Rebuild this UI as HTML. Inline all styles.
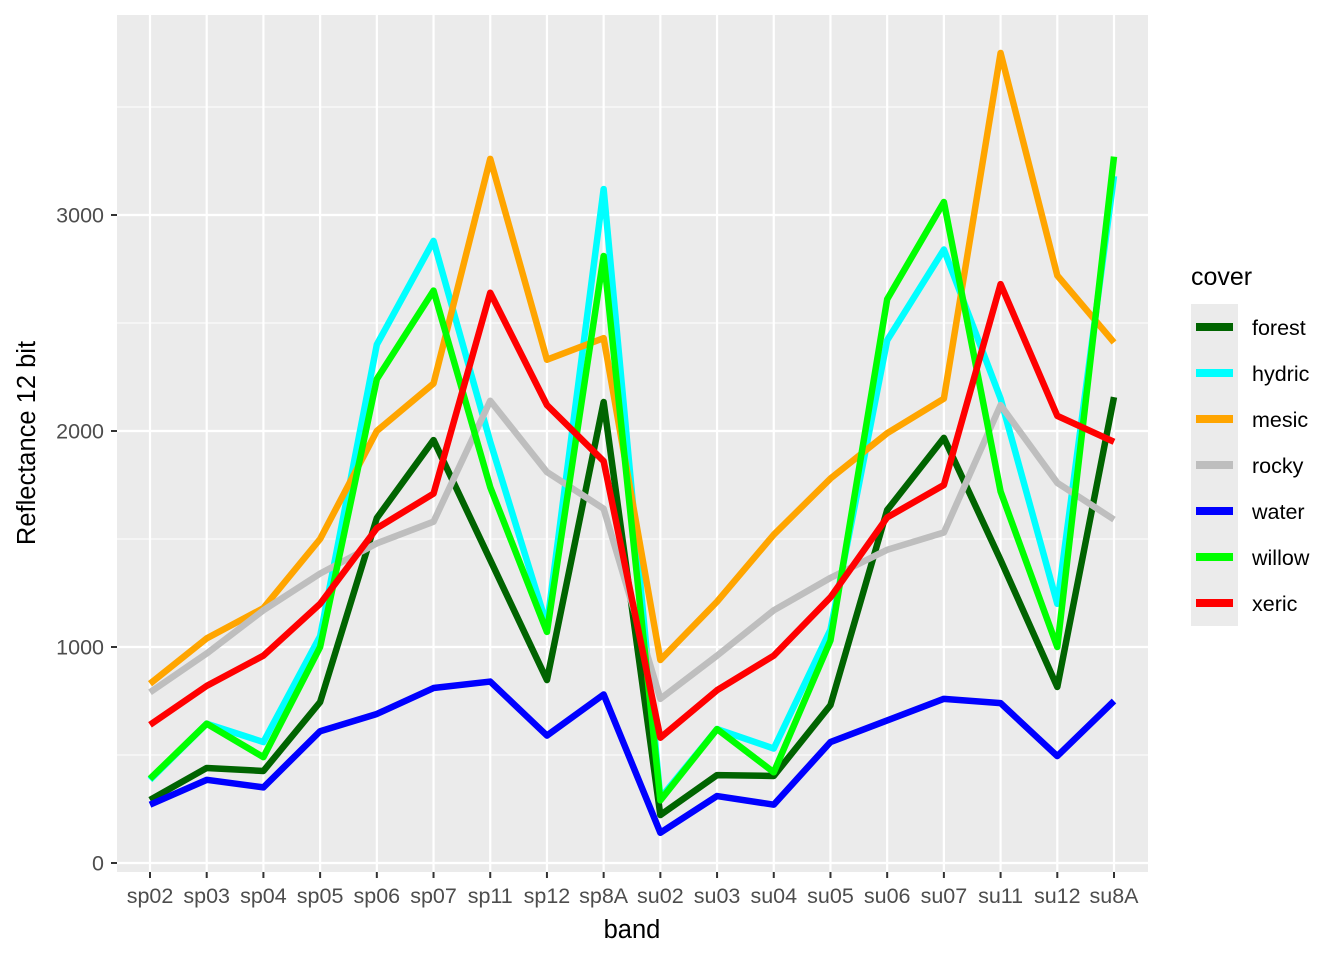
<!DOCTYPE html>
<html><head><meta charset="utf-8"><style>
body{margin:0;background:#fff;}
svg text{font-family:"Liberation Sans",Arial,sans-serif;}
</style></head><body>
<svg id="chart" width="1344" height="960" xmlns="http://www.w3.org/2000/svg">
<rect x="117" y="15" width="1031" height="857" fill="#ebebeb"/>
<g id="grid"></g>
<g id="lines"></g>
<g id="axes"></g>
<text x="632" y="938" font-size="25.5" text-anchor="middle" fill="#000">band</text>
<text transform="translate(35,443) rotate(-90)" font-size="25.5" text-anchor="middle" fill="#000">Reflectance 12 bit</text>
<text x="1191" y="285" font-size="25" fill="#000">cover</text>
<rect x="1191" y="304" width="47" height="322" fill="#ebebeb"/>
<g id="legend"></g>
</svg>
<script>
const categories=["sp02","sp03","sp04","sp05","sp06","sp07","sp11","sp12","sp8A","su02","su03","su04","su05","su06","su07","su11","su12","su8A"];
const seriesNames=["forest","hydric","mesic","rocky","water","willow","xeric"];
const seriesColors=["#006400","#00ffff","#ffa500","#bebebe","#0000ff","#00ff00","#ff0000"];
const forest=[292,440,426,745,1597,1958,1403,847,2134,222,407,403,731,1634,1968,1403,815,2157];
const hydric=[385,645,560,1050,2400,2880,1950,1100,3120,300,620,530,1080,2420,2840,2150,1200,3180];
const mesic=[830,1040,1180,1500,2000,2220,3260,2330,2430,940,1210,1520,1780,1990,2150,3750,2720,2410];
const rocky=[790,970,1170,1340,1480,1580,2140,1810,1640,760,960,1170,1320,1450,1530,2120,1760,1590];
const water=[270,385,350,610,690,810,840,590,780,140,310,270,560,660,760,740,495,750];
const willow=[390,645,490,1000,2240,2650,1740,1070,2810,290,620,420,1030,2610,3060,1720,1000,3270];
const xeric=[640,820,960,1200,1550,1710,2640,2120,1860,580,800,960,1230,1600,1750,2680,2070,1950];
const yTicks=[0,1000,2000,3000];
const yMinor=[500,1500,2500,3500];
const seriesData=[forest,hydric,mesic,rocky,water,willow,xeric];

const NS="http://www.w3.org/2000/svg";
function xs(i){return 150+i*(1114-150)/(categories.length-1);}
function ys(v){return 863-v*0.216;}
function mk(tag,attrs,parent){const e=document.createElementNS(NS,tag);for(const k in attrs)e.setAttribute(k,attrs[k]);parent.appendChild(e);return e;}
const grid=document.getElementById('grid'),axes=document.getElementById('axes'),lines=document.getElementById('lines'),legend=document.getElementById('legend');
yMinor.forEach(v=>{const l=mk('line',{x1:117,x2:1148,y1:ys(v),y2:ys(v),stroke:'#fff','stroke-width':1},grid);

});
yTicks.forEach(v=>{const l=mk('line',{x1:117,x2:1148,y1:ys(v),y2:ys(v),stroke:'#fff','stroke-width':2.2},grid);


const t=mk('line',{x1:111,x2:117,y1:ys(v),y2:ys(v),stroke:'#333','stroke-width':2},axes);


const tx=mk('text',{x:104,y:ys(v)+7.5,'font-size':21.5,'text-anchor':'end',fill:'#4d4d4d'},axes);tx.textContent=v;

});
categories.forEach((c,i)=>{const l=mk('line',{x1:xs(i),x2:xs(i),y1:15,y2:872,stroke:'#fff','stroke-width':2.2},grid);


const t=mk('line',{x1:xs(i),x2:xs(i),y1:872,y2:878,stroke:'#333','stroke-width':2},axes);


const tx=mk('text',{x:xs(i),y:903,'font-size':21.5,'text-anchor':'middle',fill:'#4d4d4d'},axes);tx.textContent=c;

});
seriesData.forEach((d,s)=>{const p=mk('polyline',{points:d.map((v,i)=>xs(i)+','+ys(v)).join(' '),fill:'none',stroke:seriesColors[s],'stroke-width':6.5,'stroke-linejoin':'round'},lines);


const ky=327+s*46;
const k=mk('line',{x1:1196,x2:1233,y1:ky,y2:ky,stroke:seriesColors[s],'stroke-width':8},legend);


const tx=mk('text',{x:1252,y:ky+8,'font-size':21.5,fill:'#000'},legend);tx.textContent=seriesNames[s];

});
</script>
</body></html>
